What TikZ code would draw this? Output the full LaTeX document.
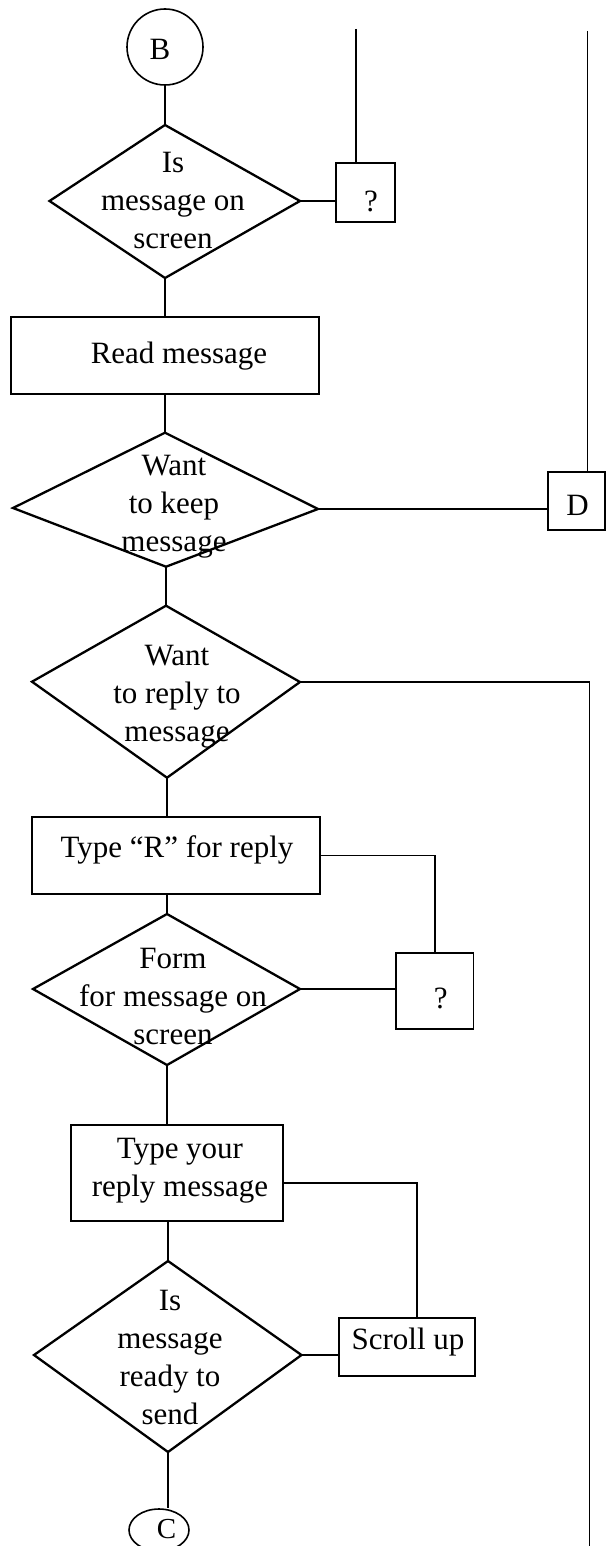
\documentclass[tikz,border=0pt]{standalone}
\usepackage{fontspec}
\setmainfont{Liberation Serif}
\usetikzlibrary{shapes.geometric}

% centred stack of lines whose baseline is that of the first line
\newcommand\stacklines[1]{\begin{tabular}[t]{@{}c@{}}#1\end{tabular}}

\tikzset{
  conn/.style={line width=1.5pt},
  procbox/.style={draw, line width=1.6pt, rectangle, inner sep=0pt},
  decision/.style={line width=2.3pt, line join=miter},
  terminal/.style={draw, line width=1.6pt, inner sep=0pt},
  txt/.style={inner sep=0pt, anchor=base,
    font=\fontsize{31pt}{38pt}\selectfont},
}

\begin{document}
\begin{tikzpicture}[x=1pt, y=-1pt]
\useasboundingbox (0,0) rectangle (606,1546);

% ---- connectors (circles) ----
\node[terminal, circle, minimum size=76pt] (B) at (165,47) {};
\node[txt] (tB) at (160,59.3) {B};
\node[terminal, ellipse, minimum width=60pt, minimum height=42pt] (C) at (159,1530) {};
\node[txt, font=\fontsize{29pt}{36pt}\selectfont] (tC) at (166.5,1538) {C};

% ---- decision diamonds (corner points) ----
\coordinate (d1t) at (165,125);   \coordinate (d1r) at (300,201);
\coordinate (d1b) at (165,278);   \coordinate (d1l) at (49.5,201);
\coordinate (d2t) at (165,432.7); \coordinate (d2r) at (318,509);
\coordinate (d2b) at (166,566.7); \coordinate (d2l) at (13,508);
\coordinate (d3t) at (166,605.7); \coordinate (d3r) at (300,682);
\coordinate (d3b) at (167,777.7); \coordinate (d3l) at (32,681.7);
\coordinate (d4t) at (167,914);   \coordinate (d4r) at (300,989);
\coordinate (d4b) at (167,1065);  \coordinate (d4l) at (33,989);
\coordinate (d5t) at (168,1261);  \coordinate (d5r) at (301.5,1355);
\coordinate (d5b) at (168,1452);  \coordinate (d5l) at (34,1355);
\foreach \d in {d1,d2,d3,d4,d5}
  \draw[decision] (\d t) -- (\d r) -- (\d b) -- (\d l) -- cycle;

\node[txt] (t1) at (173,173) {\stacklines{Is\\message on\\screen}};
\node[txt] (t2) at (174,475) {\stacklines{Want\\to keep\\message}};
\node[txt] (t3) at (177,665) {\stacklines{Want\\to reply to\\message}};
\node[txt] (t4) at (173,968) {\stacklines{Form\\for message on\\screen}};
\node[txt] (t5) at (170,1310) {\stacklines{Is\\message\\ready to\\send}};

% ---- process boxes ----
\node[procbox, minimum width=59pt, minimum height=59pt] (q1) at (365.5,192.5) {};
\node[txt] (tq1) at (371,211.5) {?};
\node[procbox, minimum width=308pt, minimum height=77pt] (RM) at (165,355.5) {};
\node[txt] (tRM) at (179,363) {Read message};
\node[procbox, minimum width=57pt, minimum height=58pt] (D) at (576.5,501) {};
\node[txt] (tD) at (577.5,515) {D};
\node[procbox, minimum width=288pt, minimum height=77pt] (TR) at (176,855.5) {};
\node[txt] (tTR) at (177,857) {Type “R” for reply};
\node[procbox, minimum width=77.5pt, minimum height=76pt] (q2) at (434.75,991) {};
\node[txt] (tq2) at (440.7,1008) {?};
\node[procbox, minimum width=212pt, minimum height=96pt] (TY) at (177,1173) {};
\node[txt] (tTY) at (180,1158) {\stacklines{Type your\\reply message}};
\node[procbox, minimum width=136pt, minimum height=58pt] (SU) at (407,1347) {};
\node[txt] (tSU) at (408,1349) {Scroll up};

% ---- free line ends ----
\coordinate (top1) at (356,29);
\coordinate (top2) at (587.7,31);
\coordinate (bot) at (589.5,1546);

% ---- main flow ----
\draw[conn] (B.south) -- (d1t);
\draw[conn] (d1b) -- (RM.north);
\draw[conn] (RM.south) -- (d2t);
\draw[conn] (d2b) -- (d3t);
\draw[conn] (d3b) -- (d3b |- TR.north);
\draw[conn] (d4t |- TR.south) -- (d4t);
\draw[conn] (d4b) -- (d4b |- TY.north);
\draw[conn] (d5t |- TY.south) -- (d5t);
\draw[conn] (d5b) -- (d5b |- C.north);

% ---- side branches ----
\draw[conn] (d1r) -- (d1r -| q1.west);
\draw[conn] (top1) -- (top1 |- q1.north);
\draw[conn] (d2r) -- (d2r -| D.west);
\draw[conn] (top2) -- (top2 |- D.north);
\draw[conn] (d3r) -- (d3r -| bot) -- (bot);
\draw[conn] (TR.east) -| (q2.north);
\draw[conn] (d4r) -- (d4r -| q2.west);
\draw[conn] ([yshift=-10pt]TY.east) -| ([xshift=10pt]SU.north);
\draw[conn] (d5r) -- (d5r -| SU.west);
\end{tikzpicture}
\end{document}
